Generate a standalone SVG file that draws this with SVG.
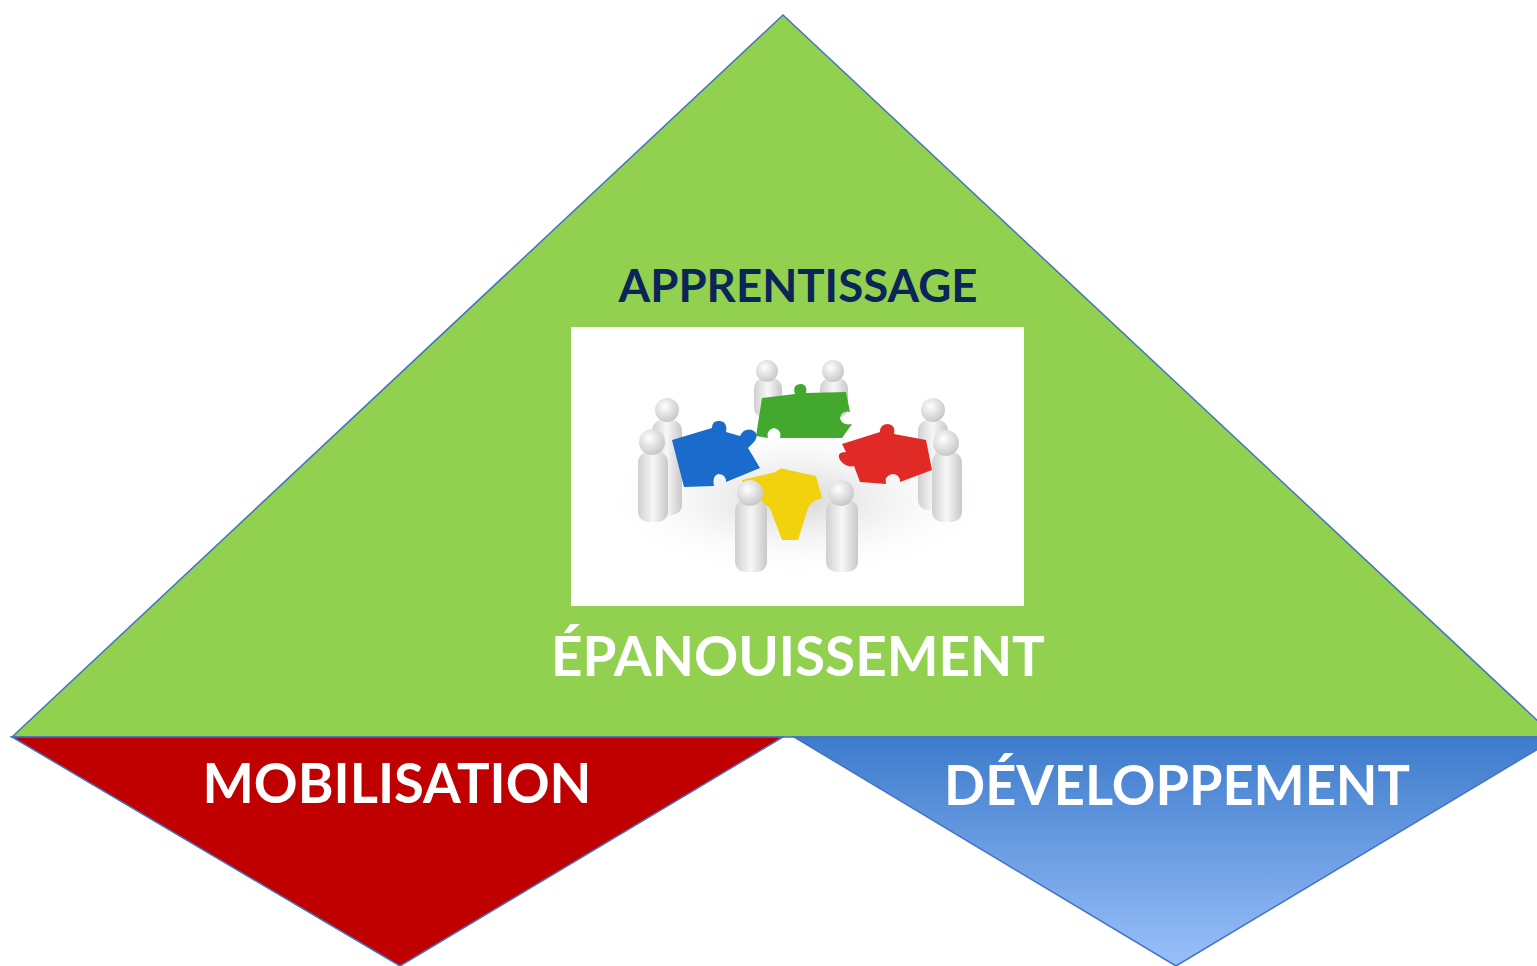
<svg xmlns="http://www.w3.org/2000/svg" width="1537" height="966" viewBox="0 0 1537 966">
<defs>
<linearGradient id="blueGrad" x1="0" y1="0" x2="0" y2="1">
<stop offset="0" stop-color="#3D7BCB"/>
<stop offset="1" stop-color="#99C0FA"/>
</linearGradient>
<radialGradient id="shadow" cx="0.5" cy="0.5" r="0.5">
<stop offset="0" stop-color="#d6d6d6"/>
<stop offset="1" stop-color="#ffffff" stop-opacity="0"/>
</radialGradient>
<radialGradient id="head" cx="0.4" cy="0.35" r="0.7">
<stop offset="0" stop-color="#ffffff"/>
<stop offset="1" stop-color="#c4c4c4"/>
</radialGradient>
<linearGradient id="body" x1="0" y1="0" x2="1" y2="0">
<stop offset="0" stop-color="#d0d0d0"/>
<stop offset="0.5" stop-color="#f7f7f7"/>
<stop offset="1" stop-color="#c8c8c8"/>
</linearGradient>
<style>
.tri{stroke:#4472C4;stroke-width:1.5;stroke-linejoin:miter}
.lbl{font-family:Lato,"Open Sans","Liberation Sans",sans-serif;font-weight:bold}
.w{fill:#ffffff}
.fig{fill:url(#body)}
.hd{fill:url(#head)}
</style>
</defs>
<rect width="1537" height="966" fill="#ffffff"/>
<g id="apprentissage">
<polygon class="tri" points="783,15 1555,737 12,737" fill="#92D050"/>
<text class="lbl" x="798" y="302" font-size="46" fill="#0B2559" text-anchor="middle" textLength="359" lengthAdjust="spacingAndGlyphs">APPRENTISSAGE</text>
<text class="lbl w" x="798" y="676" font-size="55" text-anchor="middle" textLength="494" lengthAdjust="spacingAndGlyphs">ÉPANOUISSEMENT</text>
</g>
<g id="picture">
<rect x="571" y="327" width="453" height="279" fill="#ffffff"/>
<ellipse cx="797" cy="500" rx="200" ry="80" fill="url(#shadow)"/>
<!-- back figures -->
<rect class="fig" x="754" y="378" width="28" height="40" rx="10"/>
<rect class="fig" x="820" y="378" width="28" height="40" rx="10"/>
<circle class="hd" cx="767" cy="371" r="11"/>
<circle class="hd" cx="833" cy="371" r="11"/>
<!-- left figures -->
<rect class="fig" x="652" y="420" width="30" height="95" rx="10"/>
<rect class="fig" x="638" y="452" width="30" height="70" rx="10"/>
<circle class="hd" cx="667" cy="410" r="12"/>
<circle class="hd" cx="652" cy="442" r="13"/>
<!-- right figures -->
<rect class="fig" x="918" y="420" width="30" height="90" rx="10"/>
<rect class="fig" x="932" y="452" width="30" height="70" rx="10"/>
<circle class="hd" cx="933" cy="410" r="12"/>
<circle class="hd" cx="946" cy="443" r="13"/>
<!-- puzzle pieces -->
<path d="M762,398 L795,394 Q792,385 800,384 Q808,384 806,393 L846,392 L850,412 Q842,410 840,418 Q842,426 852,424 L842,438 L780,438 Q782,430 774,428 Q766,430 768,438 L756,436 Z" fill="#42A82E"/>
<path d="M672,440 L712,428 Q712,420 720,421 Q728,422 726,432 L740,436 Q744,428 752,430 Q760,434 754,442 L748,448 L760,468 L726,482 Q726,474 718,474 Q712,476 714,486 L684,487 Z" fill="#1A6BCC"/>
<path d="M842,444 L880,432 Q880,424 888,424 Q896,425 894,434 L926,440 L932,470 L900,482 Q900,474 892,474 Q884,476 886,484 L860,482 L854,466 Q846,468 840,460 Q836,452 846,452 Z" fill="#E02A25"/>
<path d="M742,480 L776,472 Q780,466 788,470 L816,476 L822,498 Q812,500 808,508 L798,540 L782,540 L770,508 Q760,500 748,500 Z" fill="#F2D20C"/>
<!-- front figures -->
<rect class="fig" x="735" y="500" width="32" height="72" rx="10"/>
<rect class="fig" x="826" y="500" width="32" height="72" rx="10"/>
<circle class="hd" cx="750" cy="493" r="13"/>
<circle class="hd" cx="841" cy="493" r="13"/>
</g>
<g id="mobilisation">
<polygon class="tri" points="12,737 783,737 400,966" fill="#C00000"/>
<text class="lbl w" x="397" y="803" font-size="56" text-anchor="middle" textLength="389" lengthAdjust="spacingAndGlyphs">MOBILISATION</text>
</g>
<g id="developpement">
<polygon class="tri" points="794,737 1558,737 1176,966" fill="url(#blueGrad)"/>
<text class="lbl w" x="1177" y="805" font-size="56" text-anchor="middle" textLength="466" lengthAdjust="spacingAndGlyphs">DÉVELOPPEMENT</text>
</g>
<g id="connectors"></g>
</svg>
